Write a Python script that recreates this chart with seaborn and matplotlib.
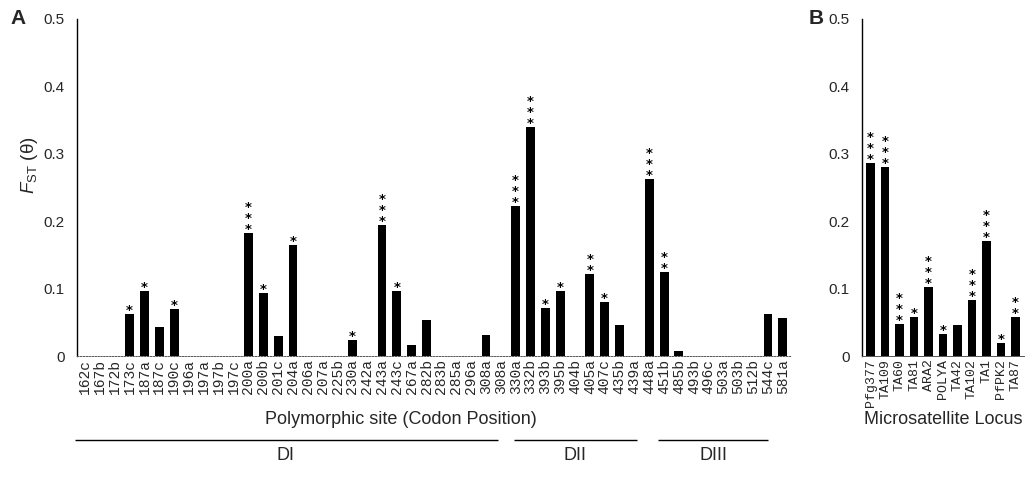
import numpy as np
import pandas as pd
import matplotlib
matplotlib.use("Agg")
import matplotlib.pyplot as plt
import seaborn as sns

# ---------------- data ----------------
sites = ["162c", "167b", "172b", "173c", "187a", "187c", "190c", "196a", "197a", "197b", "197c",
         "200a", "200b", "201c", "204a", "206a", "207a", "225b", "230a", "242a", "243a", "243c",
         "267a", "282b", "283b", "285a", "296a", "308a", "308a", "330a", "332b", "393b", "395b",
         "404b", "405a", "407c", "435b", "439a", "448a", "451b", "485b", "493b", "496c", "503a",
         "503b", "512b", "544c", "581a"]
fst_sites = [0, 0, 0, 0.062, 0.096, 0.043, 0.070, 0, 0, 0, 0,
             0.183, 0.093, 0.030, 0.164, 0, 0, 0, 0.024, 0, 0.195, 0.097,
             0.017, 0.053, 0, 0, 0, 0.031, 0, 0.222, 0.340, 0.071, 0.096,
             0, 0.122, 0.080, 0.046, 0, 0.263, 0.125, 0.008, 0, 0, 0,
             0, 0, 0.063, 0.056]
stars_sites = [0, 0, 0, 1, 1, 0, 1, 0, 0, 0, 0,
               3, 1, 0, 1, 0, 0, 0, 1, 0, 3, 1,
               0, 0, 0, 0, 0, 0, 0, 3, 3, 1, 1,
               0, 2, 1, 0, 0, 3, 2, 0, 0, 0, 0,
               0, 0, 0, 0]

loci = ["Pfg377", "TA109", "TA60", "TA81", "ARA2", "POLYA", "TA42", "TA102", "TA1", "PfPK2", "TA87"]
fst_loci = [0.287, 0.280, 0.048, 0.058, 0.103, 0.033, 0.046, 0.083, 0.170, 0.019, 0.058]
stars_loci = [3, 3, 3, 1, 3, 1, 0, 3, 3, 1, 2]

domains = ["DI", "DII", "DIII"]
domain_start = [-0.68, 28.9, 38.6]
domain_end = [27.8, 37.2, 46.0]
domain_label_x = [13.5, 33.0, 42.3]

yticks = [0, 0.1, 0.2, 0.3, 0.4, 0.5]
ytick_labels = ["0", "0.1", "0.2", "0.3", "0.4", "0.5"]

# ---------------- style ----------------
sns.set_style("white")
plt.rcParams["font.family"] = ["Liberation Sans", "DejaVu Sans"]
plt.rcParams["mathtext.fontset"] = "custom"
plt.rcParams["mathtext.rm"] = "Liberation Sans"
plt.rcParams["mathtext.it"] = "Liberation Sans:italic"

W, H = 1035, 492
fig = plt.figure(figsize=(W / 100, H / 100), dpi=100)

y0_px, y1_px = 356, 19
axA = fig.add_axes([77 / W, 1 - y0_px / H, (791 - 77) / W, (y0_px - y1_px) / H])
axB = fig.add_axes([862 / W, 1 - y0_px / H, (1024 - 862) / W, (y0_px - y1_px) / H])

dfA = pd.DataFrame({"pos": np.arange(len(sites)), "fst": fst_sites})
dfB = pd.DataFrame({"locus": loci, "fst": fst_loci})

sns.barplot(data=dfA, x="pos", y="fst", color="black", width=0.6, linewidth=0,
            saturation=1, ax=axA, errorbar=None)
sns.barplot(data=dfB, x="locus", y="fst", order=loci, color="black", width=0.6,
            linewidth=0, saturation=1, ax=axB, errorbar=None)


def style_axis(ax, labels, xmin, xmax, lab_size):
    n = len(labels)
    ax.set_xlim(xmin, xmax)
    ax.set_ylim(0, 0.5)
    ax.set_xticks(range(n))
    ax.set_xticklabels(labels, rotation=90, family="Liberation Mono", fontsize=lab_size)
    ax.set_xticks(np.arange(n - 1) + 0.5, minor=True)
    ax.tick_params(axis="x", which="major", length=0, pad=2)
    ax.tick_params(axis="x", which="minor", length=2.5, width=0.6, direction="out",
                   color="#444444")
    ax.set_yticks(yticks)
    ax.set_yticklabels(ytick_labels, fontsize=11)
    ax.set_yticks(np.arange(0.05, 0.5, 0.1), minor=True)
    ax.tick_params(axis="y", which="major", length=4, width=0.8, direction="out", pad=5)
    ax.tick_params(axis="y", which="minor", length=2.5, width=0.6, direction="out")
    ax.set_xlabel("")
    ax.set_ylabel("")
    for s in ["top", "right"]:
        ax.spines[s].set_visible(False)
    ax.spines["left"].set_linewidth(1.0)
    ax.spines["left"].set_color("black")
    ax.spines["bottom"].set_linewidth(0.7)
    ax.spines["bottom"].set_color("#555555")


style_axis(axA, sites, -0.55, 47.55, 10.5)
style_axis(axB, loci, -0.6, 10.6, 9.5)
axA.spines["bottom"].set_linestyle((0, (1.5, 1.5)))


def add_stars(ax, vals, stars):
    for i, (v, k) in enumerate(zip(vals, stars)):
        if k == 0:
            continue
        ax.annotate("\n".join(["*"] * k), xy=(i, v), xytext=(0, 0),
                    textcoords="offset pixels", ha="center", va="baseline",
                    fontsize=9.5, fontweight="bold", family="DejaVu Sans",
                    linespacing=0.8, color="black", annotation_clip=False)


add_stars(axA, fst_sites, stars_sites)
add_stars(axB, fst_loci, stars_loci)

# labels
fig.text(30 / W, 1 - 165 / H, r"$F_{\mathrm{ST}}$ (θ)", rotation=90,
         ha="center", va="center", fontsize=13.5)
fig.text(10 / W, 1 - 19 / H, "A", fontsize=15, fontweight="bold", ha="left", va="center")
fig.text(809 / W, 1 - 19 / H, "B", fontsize=15, fontweight="bold", ha="left", va="center")

trA = axA.get_xaxis_transform()
ytitle = -(419 - y0_px) / (y0_px - y1_px)
yline = -(440 - y0_px) / (y0_px - y1_px)
ydom = -(456 - y0_px) / (y0_px - y1_px)
axA.text(21.3, ytitle, "Polymorphic site (Codon Position)", transform=trA,
         ha="center", va="center", fontsize=13)
axB.text(0.5, ytitle, "Microsatellite Locus", transform=axB.transAxes,
         ha="center", va="center", fontsize=13)

for name, a, b, xl in zip(domains, domain_start, domain_end, domain_label_x):
    axA.plot([a, b], [yline, yline], transform=trA, color="black", lw=1.0,
             clip_on=False, solid_capstyle="butt")
    axA.text(xl, ydom, name, transform=trA, ha="center", va="center", fontsize=13)

fig.savefig("out.png", dpi=100)
